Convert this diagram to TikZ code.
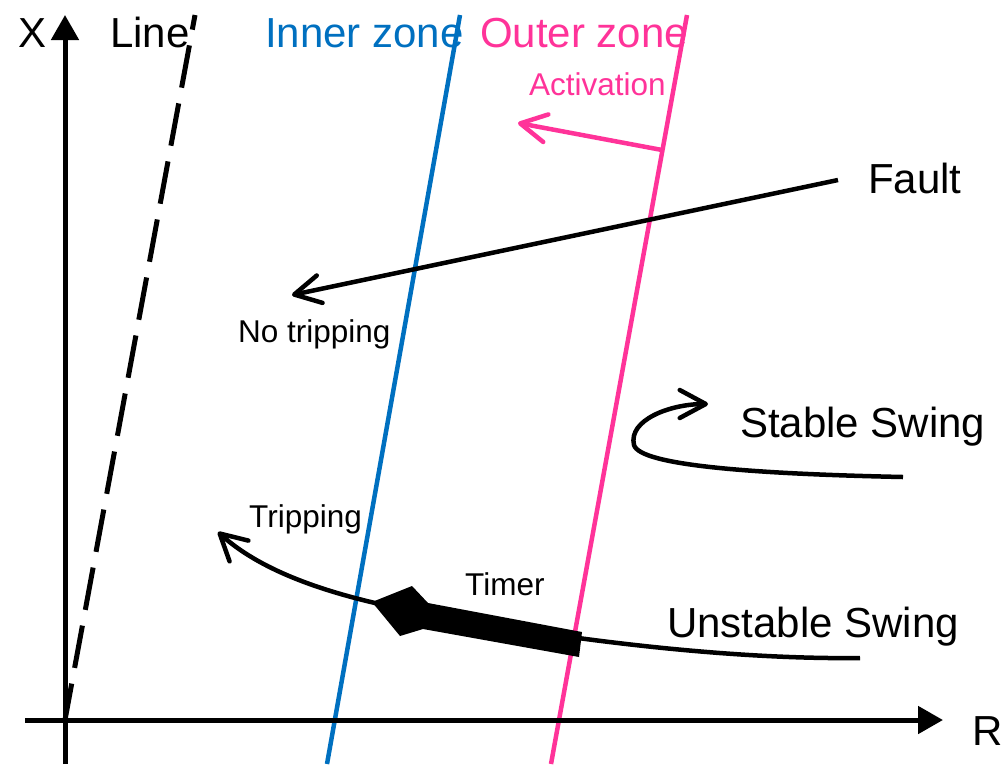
\documentclass[tikz,border=0pt]{standalone}
\usepackage{fontspec}
\setmainfont{Liberation Sans}
\usetikzlibrary{arrows.meta}
\definecolor{innerblue}{RGB}{0,112,192}
\definecolor{outerpink}{RGB}{255,51,153}
\begin{document}
\begin{tikzpicture}[x=1pt,y=-1pt,
  big/.style={anchor=base west,inner sep=0pt,font=\fontsize{42}{50}\selectfont},
  small/.style={anchor=base west,inner sep=0pt,font=\fontsize{31.5}{38}\selectfont},
  ln/.style={line width=4.5pt},
  barb/.style={-{Straight Barb[length=26pt,width=28pt,round]}},
  axis/.style={line width=5pt,-{Triangle[length=25pt,width=27pt]}}]
\useasboundingbox (0,0) rectangle (1003,764);
% coordinates
\coordinate (O) at (65,720);
\coordinate (xbot) at (65,764);
\coordinate (xtop) at (65,15);
\coordinate (rleft) at (25,720);
\coordinate (rtip) at (943,720);
\coordinate (linetop) at (195,15);
\coordinate (innerbot) at (327,764);
\coordinate (innertop) at (460,15);
\coordinate (outerbot) at (551,764);
\coordinate (outertop) at (687,15);
\coordinate (actstart) at (662,150);
\coordinate (actend) at (518,123);
\coordinate (faultstart) at (838,180);
\coordinate (faultend) at (292,295);
\coordinate (stablestart) at (903,477);
\coordinate (stableend) at (708,404);
\coordinate (unstart) at (860,658);
\coordinate (unmid) at (375,603);
\coordinate (unend) at (218,532);
% zone lines
\draw[ln,innerblue] (innerbot) -- (innertop);
\draw[ln,outerpink] (outerbot) -- (outertop);
\draw[line width=5pt,dash pattern=on 43pt off 16pt,dash phase=6pt] (O) -- (linetop);
% axes
\draw[axis] (xbot) -- (xtop);
\draw[axis] (rleft) -- (rtip);
% activation
\draw[ln,outerpink,barb] (actstart) -- (actend);
% fault
\draw[ln,barb] (faultstart) -- (faultend);
% stable swing
\draw[ln,barb] (stablestart) .. controls (760,474) and (640,466) .. (634,445)
  .. controls (628,420) and (670,404) .. (stableend);
% unstable swing
\draw[ln,barb] (unstart) .. controls (700,660) and (500,630) .. (unmid)
  .. controls (320,590) and (260,570) .. (unend);
\fill (372,602) -- (412,586) -- (428,603) -- (582,632) -- (579,657) -- (423,629) -- (400,636) -- cycle;
% labels
\node[big] (lx) at (18,47) {X};
\node[big] (lline) at (110,47) {Line};
\node[big,text=innerblue] (linner) at (265,47) {Inner zone};
\node[big,text=outerpink] (louter) at (480,47) {Outer zone};
\node[small,text=outerpink] (lact) at (529,95) {Activation};
\node[big] (lfault) at (868,193) {Fault};
\node[small] (lnotrip) at (238,342) {No tripping};
\node[big] (lstable) at (740,437) {Stable Swing};
\node[big] (lunstable) at (667,637) {Unstable Swing};
\node[small] (ltrip) at (249,527) {Tripping};
\node[small] (ltimer) at (465,595) {Timer};
\node[big] (lr) at (972,745) {R};
\end{tikzpicture}
\end{document}
